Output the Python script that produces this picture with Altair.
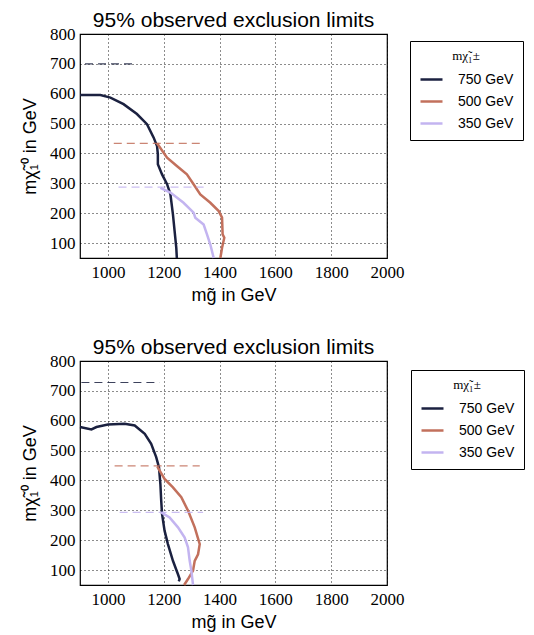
import altair as alt
import pandas as pd

series_names = ["750 GeV", "500 GeV", "350 GeV"]
series_colors = ["#1b2140", "#c2705c", "#c3b4f0"]

# Top panel curves (gluino mass, neutralino mass)
top_750_x = [900, 973, 1009, 1056, 1104, 1140, 1164, 1176, 1179, 1179, 1194, 1212, 1224, 1233, 1239, 1245, 1247]
top_750_y = [596, 596, 587, 565, 532, 498, 453, 425, 397, 364, 330, 297, 263, 196, 140, 84, 50]
top_500_x = [1176, 1212, 1247, 1283, 1307, 1331, 1367, 1397, 1409, 1411, 1417, 1409, 1403]
top_500_y = [434, 386, 358, 330, 297, 263, 235, 207, 185, 129, 118, 84, 50]
top_350_x = [1188, 1224, 1271, 1307, 1313, 1343, 1355, 1367, 1379]
top_350_y = [285, 269, 235, 202, 185, 162, 129, 95, 50]

# Bottom panel curves
bot_750_x = [900, 941, 959, 1000, 1060, 1096, 1132, 1155, 1173, 1183, 1188, 1191, 1194, 1203, 1215, 1233, 1251, 1257, 1254]
bot_750_y = [579, 571, 579, 587, 590, 584, 556, 523, 478, 444, 388, 332, 288, 232, 187, 131, 86, 70, 62]
bot_500_x = [1177, 1203, 1233, 1263, 1287, 1311, 1329, 1323, 1311, 1305, 1287, 1273]
bot_500_y = [446, 405, 377, 344, 299, 243, 187, 153, 131, 98, 70, 50]
bot_350_x = [1191, 1221, 1251, 1275, 1287, 1293, 1299, 1305]
bot_350_y = [293, 276, 243, 209, 176, 131, 98, 50]

# Dashed reference lines: series, y, x start, x end
top_dash_y = [700, 434, 287]
top_dash_x1 = [918, 1021, 1038]
top_dash_x2 = [1095, 1331, 1343]
bot_dash_y = [728, 449, 293]
bot_dash_x1 = [905, 1024, 1042]
bot_dash_x2 = [1185, 1329, 1341]

x_ticks = [1000, 1200, 1400, 1600, 1800, 2000]
y_ticks = [100, 200, 300, 400, 500, 600, 700, 800]

title_text = "95% observed exclusion limits"
x_title = "mg\u0303 in GeV"
y_title = "m\u03c7\u0303\u2081\u2070 in GeV"
legend_title = "m\u03c7\u0303\u2081\u00b1"

SERIF = "Liberation Serif"
SANS = "Liberation Sans"


def curves_df(xs_list, ys_list):
    rows = []
    for name, xs, ys in zip(series_names, xs_list, ys_list):
        for i, (x, y) in enumerate(zip(xs, ys)):
            rows.append({"series": name, "i": i, "mg": x, "mn": y})
    return pd.DataFrame(rows)


def dash_df(ys, x1s, x2s):
    return pd.DataFrame({"series": series_names, "mn": ys, "x1": x1s, "x2": x2s})


color_scale = alt.Scale(domain=series_names, range=series_colors)
xs = alt.Scale(domain=[900, 2000], nice=False, zero=False)
ys = alt.Scale(domain=[50, 800], nice=False, zero=False)

x_axis = alt.Axis(values=x_ticks, format="d", title=x_title)
y_axis = alt.Axis(values=y_ticks, format="d", title=y_title)


def panel(cdf, ddf, lx, ly):
    lines = alt.Chart(cdf).mark_line(strokeWidth=2.5).encode(
        x=alt.X("mg:Q", scale=xs, axis=x_axis),
        y=alt.Y("mn:Q", scale=ys, axis=y_axis),
        color=alt.Color("series:N", scale=color_scale, sort=series_names,
                        legend=alt.Legend(title=legend_title, orient="none",
                                          legendX=lx, legendY=ly)),
        order="i:Q",
    )
    dashes = alt.Chart(ddf).mark_rule(strokeWidth=1.2, strokeDash=[8, 5], opacity=0.85).encode(
        x=alt.X("x1:Q", scale=xs, axis=x_axis),
        x2="x2:Q",
        y=alt.Y("mn:Q", scale=ys, axis=y_axis),
        color=alt.Color("series:N", scale=color_scale, legend=None),
    )
    return alt.layer(lines, dashes).properties(
        width=307, height=224,
        title=alt.TitleParams(title_text, font=SANS, fontSize=21,
                              fontWeight="normal", color="black", anchor="middle", offset=-6),
    )


top = panel(curves_df([top_750_x, top_500_x, top_350_x], [top_750_y, top_500_y, top_350_y]),
            dash_df(top_dash_y, top_dash_x1, top_dash_x2), 330, 7)
bot = panel(curves_df([bot_750_x, bot_500_x, bot_350_x], [bot_750_y, bot_500_y, bot_350_y]),
            dash_df(bot_dash_y, bot_dash_x1, bot_dash_x2), 331, 9)

chart = alt.vconcat(top, bot, spacing=31).resolve_legend(color="independent").resolve_scale(
    color="independent"
).properties(
    padding={"left": 12, "top": 1, "right": 0, "bottom": 0}
).configure_view(
    stroke="black", strokeWidth=1.2
).configure_axis(
    grid=True, gridColor="black", gridDash=[1, 3], gridOpacity=0.9,
    ticks=False, domain=False, labelOverlap=False, labelFlush=False,
    labelFont=SERIF, labelFontSize=17, labelColor="black",
    titleFont=SANS, titleFontSize=18, titleFontWeight="normal", titleColor="black",
).configure_axisX(
    labelPadding=6, titlePadding=6
).configure_axisY(
    labelPadding=5, titlePadding=10
).configure_legend(
    symbolType="stroke", symbolSize=484, symbolStrokeWidth=2.5,
    labelFont=SANS, labelFontSize=14, labelColor="black",
    titleFont=SERIF, titleFontSize=13, titleFontWeight="normal", titleColor="black",
    titleAnchor="middle", titleAlign="center",
    strokeColor="black", padding=9, rowPadding=2, labelOffset=14, titlePadding=4,
)

chart.save("out.html", embed_options={"renderer": "svg", "actions": False})
